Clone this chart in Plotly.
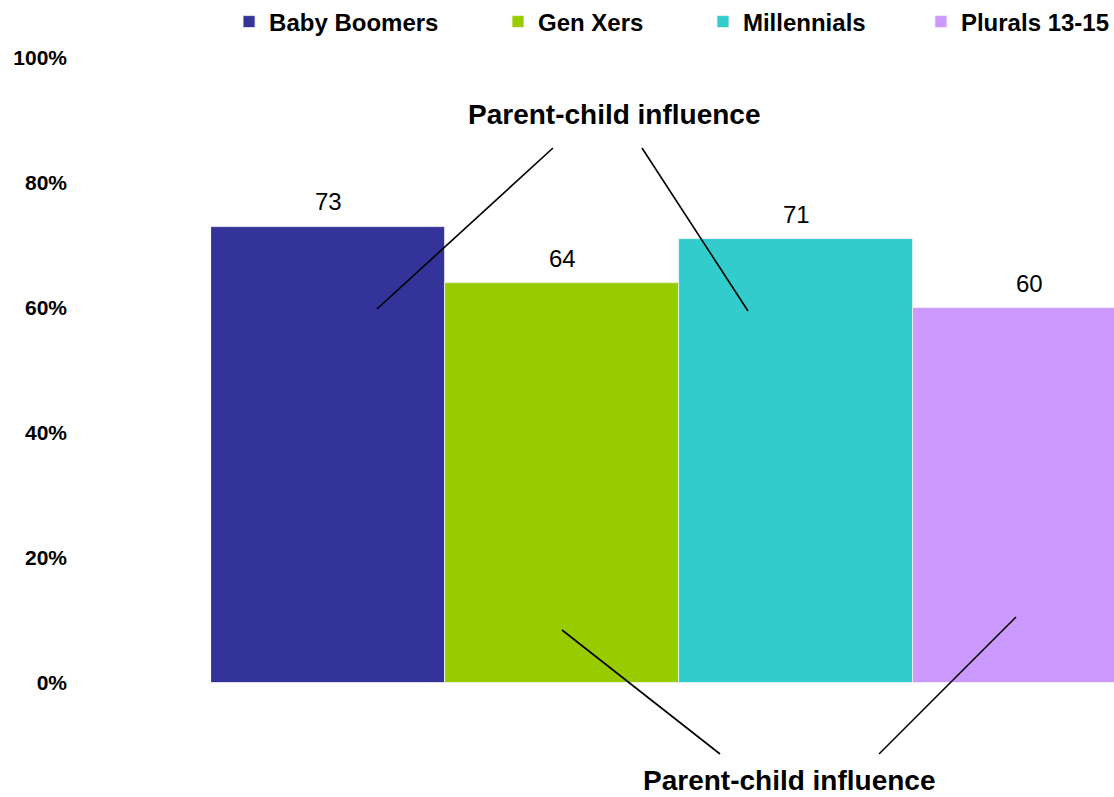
import plotly.graph_objects as go

generations = ["Baby Boomers", "Gen Xers", "Millennials", "Plurals 13-15"]
values = [73, 64, 71, 60]
colors = ["#333399", "#99CC00", "#33CCCC", "#CC99FF"]
tick_vals = [0, 20, 40, 60, 80, 100]
tick_text = ["0%", "20%", "40%", "60%", "80%", "100%"]
callout = "Parent-child influence"

FONT = "Liberation Sans, Arial, sans-serif"

# each legend entry is its own legend so it can sit where the original puts it
legend_ids = ["legend", "legend2", "legend3", "legend4"]
legend_x = [0.0200, 0.3178, 0.5448, 0.7862]

fig = go.Figure()
for i, (g, v, c) in enumerate(zip(generations, values, colors)):
    fig.add_trace(go.Bar(
        x=[i], y=[v], name=g, width=1, legend=legend_ids[i],
        marker=dict(color=c, line=dict(width=0.8, color="#f4f4f4")),
        hoverinfo="skip",
    ))
    fig.add_annotation(x=i, y=v, text=str(v), showarrow=False,
                       yanchor="middle", yshift=25,
                       font=dict(family=FONT, size=24, color="#000"))

# callout titles
fig.add_annotation(xref="paper", yref="paper", x=0.447, y=0.9088, text=callout,
                   showarrow=False, xanchor="center", yanchor="middle",
                   font=dict(family=FONT, size=28, color="#000", weight="bold"))
fig.add_annotation(xref="paper", yref="paper", x=0.641, y=-0.1552, text=callout,
                   showarrow=False, xanchor="center", yanchor="middle",
                   font=dict(family=FONT, size=28, color="#000", weight="bold"))

# leader lines (paper coordinates)
leaders = [
    (0.3787, 0.856, 0.1838, 0.5984),
    (0.4773, 0.856, 0.5947, 0.5952),
    (0.3887, 0.0848, 0.5637, -0.1136),
    (0.8915, 0.1056, 0.7398, -0.1136),
]
for x0, y0, x1, y1 in leaders:
    fig.add_shape(type="line", xref="paper", yref="paper",
                  x0=x0, y0=y0, x1=x1, y1=y1,
                  line=dict(color="#000", width=1.6))

leg_common = dict(orientation="h", y=1.0576, yanchor="middle", xanchor="left",
                  font=dict(family=FONT, size=24, color="#000", weight="bold"),
                  itemwidth=30, bgcolor="rgba(0,0,0,0)")

fig.update_layout(
    width=1114, height=797, autosize=False,
    margin=dict(l=211, r=0, t=58, b=114, autoexpand=False),
    paper_bgcolor="white", plot_bgcolor="white",
    barmode="overlay", bargap=0,
    showlegend=True,
    legend=dict(x=legend_x[0], **leg_common),
    legend2=dict(x=legend_x[1], **leg_common),
    legend3=dict(x=legend_x[2], **leg_common),
    legend4=dict(x=legend_x[3], **leg_common),
    xaxis=dict(range=[-0.5, 3.359], showticklabels=False, showgrid=False,
               zeroline=False, showline=False, ticks=""),
    yaxis=dict(range=[0, 100], tickvals=tick_vals, ticktext=tick_text,
               showgrid=False, zeroline=False, showline=False, ticks="",
               ticklabelstandoff=143,
               tickfont=dict(family=FONT, size=21, color="#000", weight="bold")),
)

fig.write_html(
    "out.html",
    config={"responsive": False, "displayModeBar": False},
    post_script="document.body.style.margin='0';document.body.style.overflow='hidden';",
)
